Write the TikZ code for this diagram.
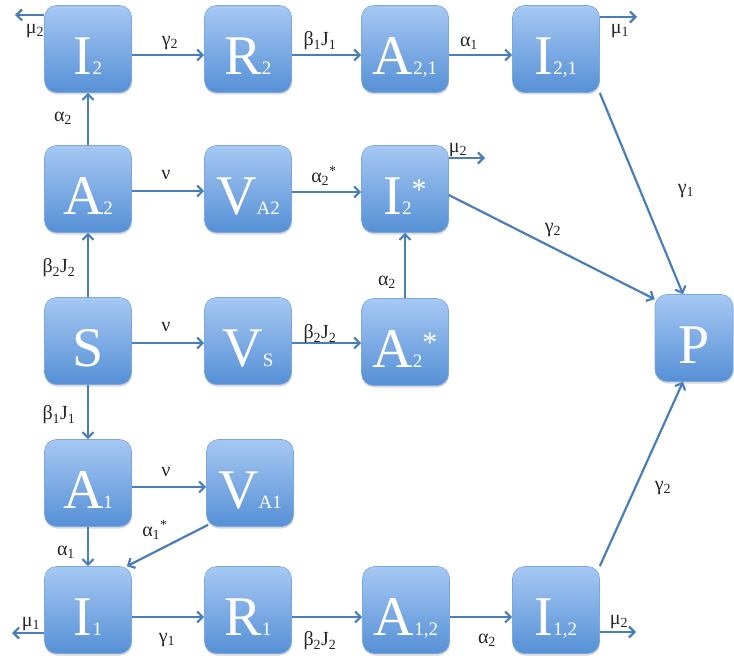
\documentclass[tikz,border=0pt]{standalone}
\usepackage{fontspec}
\setmainfont{Liberation Serif}
\usetikzlibrary{arrows.meta,shadows}

\definecolor{cellTop}{HTML}{A6C8F3}
\definecolor{cellBot}{HTML}{5690D6}
\definecolor{cellEdge}{HTML}{7BA7DF}
\definecolor{flowBlue}{HTML}{4A7EBB}

% small index inside a compartment
\newcommand\idx[1]{{\fontsize{19}{19}\selectfont #1}}
% raised star inside a compartment
\newcommand\cstar{\smash{\raisebox{15pt}{\fontsize{30}{30}\selectfont *}}}
% compartment: name, position, content
\newcommand\cell[4][]{%
  \node[cell,#1] (#2) at (#3) {};
  \node[celltext] (#2-txt) at ([yshift=-7pt]#2.center) {#4};}

\tikzset{
  cell/.style={rounded corners=12pt, minimum width=87pt, minimum height=87pt,
    inner sep=0pt, top color=cellTop, bottom color=cellBot,
    draw=cellEdge, line width=0.6pt,
    drop shadow={shadow xshift=0.5pt, shadow yshift=-2pt, opacity=0.25, fill=black!60}},
  celltext/.style={text=white, inner sep=0pt, text depth=0pt,
    font=\fontsize{56}{56}\selectfont},
  flow/.style={draw=flowBlue, line width=2.2pt,
    -{Straight Barb[length=5.5pt,width=11pt]}},
  rate/.style={font=\fontsize{20}{20}\selectfont, text=black!85, inner sep=0pt},
}

\begin{document}
\begin{tikzpicture}[x=1pt,y=-1pt]
\useasboundingbox (0,0) rectangle (734,658);

% compartments
\cell{I2}{88,49}{I\idx{2}}
\cell{R2}{248,49}{R\idx{2}}
\cell{A21}{405,49}{A\idx{2,1}}
\cell{I21}{556,49}{I\idx{2,1}}
\cell{A2}{88,189}{A\idx{2}}
\cell{VA2}{248,189}{V\idx{A2}}
\cell{I2s}{405,189}{I\idx{2}\cstar}
\cell{S}{88,341}{S}
\cell{VS}{248,341}{V\idx{S}}
\cell{A2s}{405,342}{A\idx{2}\cstar}
\cell{A1}{88,483}{A\idx{1}}
\cell{VA1}{250,483}{V\idx{A1}}
\cell{I1}{88,610}{I\idx{1}}
\cell{R1}{248,610}{R\idx{1}}
\cell{A12}{406,610}{A\idx{1,2}}
\cell{I12}{556,610}{I\idx{1,2}}
\cell[minimum width=78pt]{P}{694,338}{P}

% free ends of the death flows
\coordinate (outI2) at (15,15);
\coordinate (outI21) at (637,17);
\coordinate (outI2s) at (485,158);
\coordinate (outI1) at (12,633);
\coordinate (outI12) at (636,632);

% top row
\draw[flow] ([yshift=-6pt]I2.east) -- ([yshift=-6pt]R2.west);
\draw[flow] ([yshift=-6pt]R2.east) -- ([yshift=-6pt]A21.west);
\draw[flow] ([yshift=-6pt]A21.east) -- ([yshift=-6pt]I21.west);
\draw[flow] ([yshift=34pt]I2.west) -- (outI2);
\draw[flow] ([yshift=32pt]I21.east) -- (outI21);
\draw[flow] (I21.south east) -- ([xshift=-11pt]P.north);

% second row
\draw[flow] (A2.north) -- (I2.south);
\draw[flow] ([yshift=-2pt]A2.east) -- ([yshift=-2pt]VA2.west);
\draw[flow] ([yshift=-3pt]VA2.east) -- ([yshift=-3pt]I2s.west);
\draw[flow] ([yshift=31pt]I2s.east) -- (outI2s);
\draw[flow] ([yshift=-6pt]I2s.east) -- ([yshift=-5pt]P.north west);

% middle row
\draw[flow] (S.north) -- (A2.south);
\draw[flow] ([yshift=-2pt]S.east) -- ([yshift=-2pt]VS.west);
\draw[flow] ([yshift=-2pt]VS.east) -- ([yshift=-1pt]A2s.west);
\draw[flow] (A2s.north) -- (I2s.south);
\draw[flow] (S.south) -- (A1.north);

% fourth row
\draw[flow] ([yshift=-4pt]A1.east) -- ([yshift=-4pt]VA1.west);
\draw[flow] (A1.south) -- (I1.north);
\draw[flow] ([shift={(2pt,2pt)}]VA1.south west) -- ([xshift=-5pt]I1.north east);

% bottom row
\draw[flow] ([yshift=-7pt]I1.east) -- ([yshift=-7pt]R1.west);
\draw[flow] ([yshift=-7pt]R1.east) -- ([yshift=-7pt]A12.west);
\draw[flow] ([yshift=-7pt]A12.east) -- ([yshift=-7pt]I12.west);
\draw[flow] ([yshift=-23pt]I1.west) -- (outI1);
\draw[flow] ([yshift=-22pt]I12.east) -- (outI12);
\draw[flow] (I12.north east) -- ([xshift=-11pt]P.south);

% rates
\node[rate] (r1) at (35,31) {μ\textsubscript{2}};
\node[rate] (r2) at (170,43) {γ\textsubscript{2}};
\node[rate] (r3) at (320,41) {β\textsubscript{1}J\textsubscript{1}};
\node[rate] (r4) at (469,43) {α\textsubscript{1}};
\node[rate] (r5) at (620,31) {μ\textsubscript{1}};
\node[rate] (r6) at (686,191) {γ\textsubscript{1}};
\node[rate] (r7) at (63,118) {α\textsubscript{2}};
\node[rate] (r8) at (166,175) {ν};
\node[rate] (r9) at (324,176) {α\textsubscript{2}\textsuperscript{*}};
\node[rate] (r10) at (458,150) {μ\textsubscript{2}};
\node[rate] (r11) at (553,230) {γ\textsubscript{2}};
\node[rate] (r12) at (59,268) {β\textsubscript{2}J\textsubscript{2}};
\node[rate] (r13) at (387,282) {α\textsubscript{2}};
\node[rate] (r14) at (166,327) {ν};
\node[rate] (r15) at (320,334) {β\textsubscript{2}J\textsubscript{2}};
\node[rate] (r16) at (59,415) {β\textsubscript{1}J\textsubscript{1}};
\node[rate] (r17) at (166,472) {ν};
\node[rate] (r18) at (155,530) {α\textsubscript{1}\textsuperscript{*}};
\node[rate] (r19) at (66,552) {α\textsubscript{1}};
\node[rate] (r20) at (31,624) {μ\textsubscript{1}};
\node[rate] (r21) at (167,640) {γ\textsubscript{1}};
\node[rate] (r22) at (320,641) {β\textsubscript{2}J\textsubscript{2}};
\node[rate] (r23) at (487,640) {α\textsubscript{2}};
\node[rate] (r24) at (619,622) {μ\textsubscript{2}};
\node[rate] (r25) at (663,488) {γ\textsubscript{2}};
\end{tikzpicture}
\end{document}
